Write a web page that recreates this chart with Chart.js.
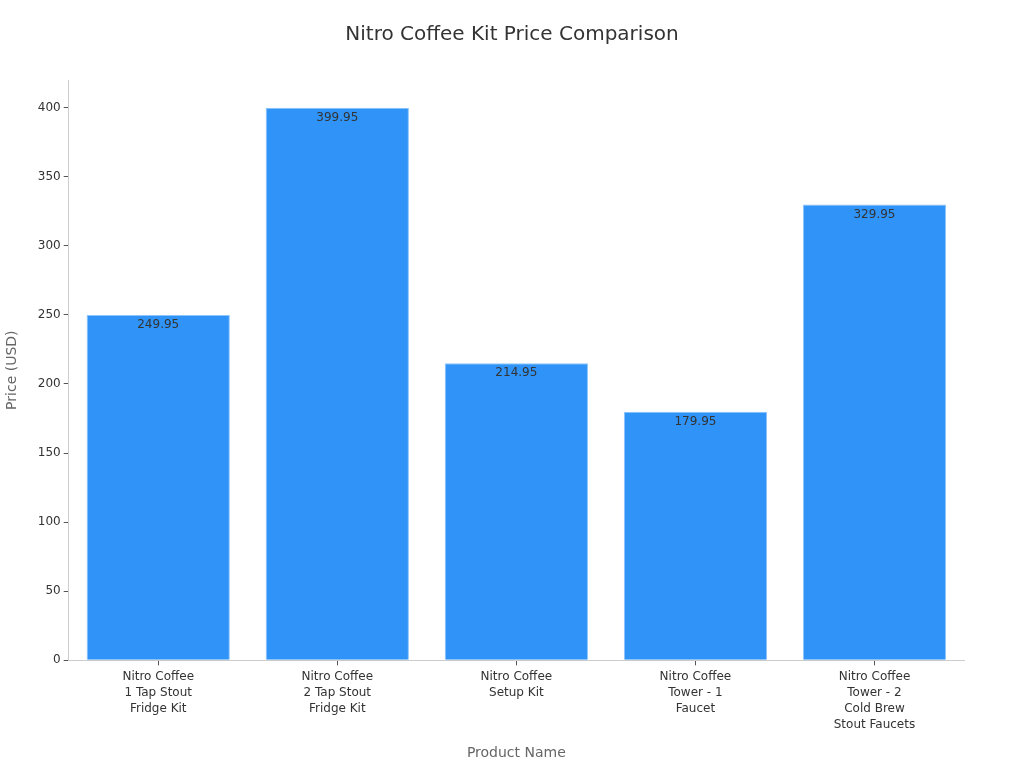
<!DOCTYPE html>
<html>
<head>
<meta charset="utf-8">
<script src="https://cdn.jsdelivr.net/npm/chart.js@4/dist/chart.umd.min.js"></script>
<style>
  html, body { margin:0; padding:0; background:#fff; }
  #wrap { width:1024px; height:768px; position:relative; }
</style>
</head>
<body>
<div id="wrap"><canvas id="c"></canvas></div>
<script>
// ── Dados ───────────────────────────────
const products = [
  ['Nitro Coffee', '1 Tap Stout', 'Fridge Kit'],
  ['Nitro Coffee', '2 Tap Stout', 'Fridge Kit'],
  ['Nitro Coffee', 'Setup Kit'],
  ['Nitro Coffee', 'Tower - 1', 'Faucet'],
  ['Nitro Coffee', 'Tower - 2', 'Cold Brew', 'Stout Faucets'],
];
const prices = [249.95, 399.95, 214.95, 179.95, 329.95];
const chartTitle = 'Nitro Coffee Kit Price Comparison';

const FONT = "'DejaVu Sans', sans-serif";
const BAR = '#2f93f7';

// título centrado na página + rótulos no topo das barras
const extras = {
  id: 'extras',
  afterDatasetsDraw(chart) {
    const { ctx } = chart;
    const meta = chart.getDatasetMeta(0);
    ctx.save();
    ctx.font = '12px ' + FONT;
    ctx.fillStyle = '#333';
    ctx.textAlign = 'center';
    ctx.textBaseline = 'middle';
    meta.data.forEach((bar, i) => {
      ctx.fillText(prices[i].toFixed(2), bar.x, bar.y + 10);
    });
    ctx.font = '20px ' + FONT;
    ctx.fillText(chartTitle, chart.width / 2, 35);
    ctx.restore();
  }
};

new Chart(document.getElementById('c'), {
  type: 'bar',
  data: {
    labels: products,
    datasets: [{
      data: prices,
      backgroundColor: BAR,
      borderColor: '#8cc4fb',
      borderWidth: 1,
      barPercentage: 0.8,
      categoryPercentage: 1,
    }],
  },
  options: {
    responsive: true, maintainAspectRatio: false, animation: false,
    layout: { padding: { left: 0, right: 60, top: 80, bottom: 2 } },
    plugins: {
      legend: { display: false },
      tooltip: { enabled: false },
      title: { display: false },
    },
    scales: {
      x: {
        grid: { display: true, offset: false, drawOnChartArea: false, tickLength: 5, color: '#555', tickColor: '#555' },
        border: { display: true, color: '#ccc' },
        ticks: { color: '#333', font: { family: FONT, size: 12, lineHeight: 1.33 }, padding: 4, maxRotation: 0, autoSkip: false },
        title: { display: true, text: 'Product Name', color: '#666', font: { family: FONT, size: 14 }, padding: { top: 8 } },
      },
      y: {
        min: 0, max: 420,
        grid: { display: true, drawOnChartArea: false, tickLength: 5, color: '#555', tickColor: '#555' },
        border: { display: true, color: '#ccc' },
        ticks: { stepSize: 50, includeBounds: false, color: '#333', font: { family: FONT, size: 12 }, padding: 3 },
        title: { display: true, text: 'Price (USD)', color: '#666', font: { family: FONT, size: 14 }, padding: { bottom: 14 } },
      },
    },
  },
  plugins: [extras],
});
</script>
</body>
</html>
